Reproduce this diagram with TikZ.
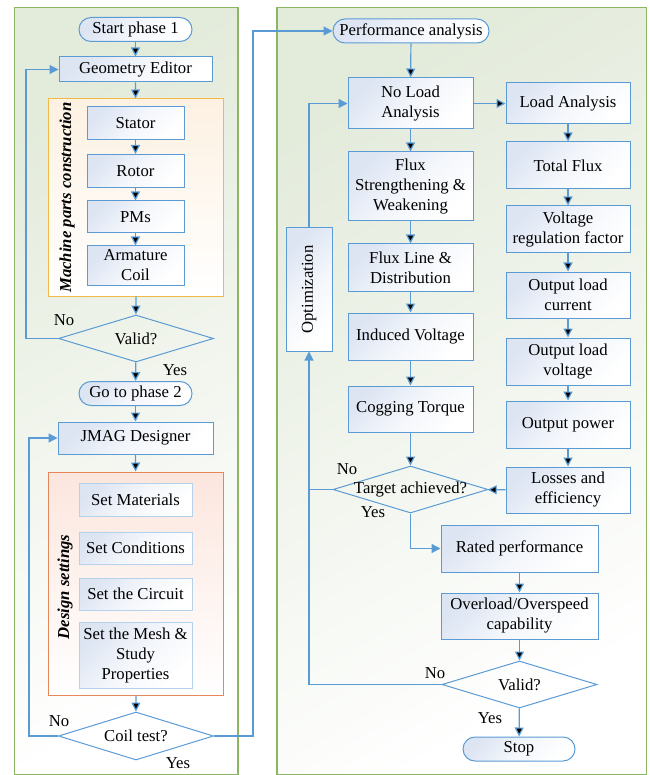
\documentclass[tikz,border=0pt]{standalone}
\usepackage{fontspec}
\setmainfont{Liberation Serif}
\usetikzlibrary{shapes.geometric, arrows.meta}
\usetikzlibrary{positioning}
\definecolor{flowblue}{HTML}{5B9BD5}
\definecolor{blockfill}{HTML}{DDE5F3}
\definecolor{panelline}{HTML}{8DB662}
\definecolor{panelfill}{HTML}{E3EBDB}
\definecolor{partsline}{HTML}{F2BA45}
\definecolor{partsfill}{HTML}{FDF1E2}
\definecolor{designline}{HTML}{E5875A}
\definecolor{designfill}{HTML}{FCE6DE}
\tikzset{
    block/.style={
           rectangle,
           draw=flowblue, line width=1pt,
           top color=blockfill, bottom color=white, shading angle=45,
           middle color=blockfill!35,
           inner sep=2pt,
           align=center,
           },
    terminal/.style={
           block,
           rounded corners=12pt,
           minimum height=24pt,
           },
    decision/.style={
           diamond,
           draw=flowblue, line width=1pt,
           inner sep=0pt,
           minimum width=155pt,
           minimum height=47pt,
           },
    panel/.style={
           draw=panelline, line width=1.2pt,
           top color=panelfill, bottom color=white, shading angle=30,
           },
    groupbox/.style={
           rectangle, line width=1pt, shading angle=45,
           },
    flow/.style={draw=flowblue, line width=1.2pt, -{Triangle[length=9pt,width=9pt]}},
    link/.style={draw=flowblue, line width=1.2pt},
}

\begin{document}
\begin{tikzpicture}[x=1pt, y=-1pt, font=\fontsize{16.7}{20}\selectfont]
  \useasboundingbox (0,0) rectangle (649,775);

  % the two phases in the background
  \draw[panel] (14.5,7.5) rectangle (238,775);
  \draw[panel] (277,7.5) rectangle (646.5,775);

  % phase 1: geometry
  \node[terminal, minimum width=113pt] (START1) at (135.5,29.5) {Start phase 1};
  \node[block, minimum width=153pt, minimum height=25pt] (GEOM) at (135.5,69.5) {Geometry Editor};
  \node[groupbox, draw=partsline, top color=partsfill, bottom color=white,
        minimum width=174.5pt, minimum height=197pt] (PARTS) at (135.75,197.5) {};
  \node[rotate=90, font=\fontsize{16.7}{19}\selectfont\bfseries\itshape] (PARTSLABEL) at (67,197.5)
    {Machine parts construction};
  \node[block, minimum width=97pt, minimum height=33pt] (STATOR) at (135.5,123.5) {Stator};
  \node[block, minimum width=97pt, minimum height=33pt] (ROTOR)  at (135.5,171) {Rotor};
  \node[block, minimum width=97pt, minimum height=32pt] (PMS)    at (135.5,217) {PMs};
  \node[block, minimum width=97pt, minimum height=39pt] (COIL)   at (135.5,265.5) {Armature\\Coil};
  \node[decision] (VALID1) at (136,338.5) {\makebox[0pt]{Valid?}};
  \node[terminal, minimum width=113pt] (START2) at (135.5,393.5) {Go to phase 2};

  % phase 2: design settings
  \node[block, minimum width=155pt, minimum height=32pt] (JMAG) at (135.5,438) {JMAG Designer};
  \node[groupbox, draw=designline, top color=designfill, bottom color=white,
        minimum width=174.5pt, minimum height=223pt] (DESIGN) at (135.75,583.5) {};
  \node[rotate=90, font=\fontsize{16.7}{19}\selectfont\bfseries\itshape] (DESIGNLABEL) at (65,587)
    {Design settings};
  \node[block, draw=flowblue!45, minimum width=113pt, minimum height=33pt] (MAT)  at (135.5,499.5) {Set Materials};
  \node[block, draw=flowblue!45, minimum width=113pt, minimum height=32pt] (COND) at (135.5,548) {Set Conditions};
  \node[block, draw=flowblue!45, minimum width=113pt, minimum height=32pt] (CIRC) at (135.5,594) {Set the Circuit};
  \node[block, draw=flowblue!45, minimum width=113pt, minimum height=66pt] (MESH) at (135.5,655)
    {Set the Mesh \&\\Study\\Properties};
  \node[decision, minimum height=48pt] (COILTEST) at (136,736) {\makebox[0pt]{Coil test?}};

  % performance analysis
  \node[terminal, minimum width=156pt] (PERF) at (411,31) {Performance analysis};
  \node[block, minimum width=125pt, minimum height=51pt] (NOLOAD) at (410.5,103.5) {No Load\\Analysis};
  \node[block, minimum width=125pt, minimum height=69pt] (FLUXSW) at (410.5,186.5) {Flux\\Strengthening \&\\Weakening};
  \node[block, minimum width=125pt, minimum height=47pt] (FLUXLINE) at (410.5,267.5) {Flux Line \&\\Distribution};
  \node[block, minimum width=125pt, minimum height=47pt] (INDUCED) at (410.5,336.5) {Induced Voltage};
  \node[block, minimum width=125pt, minimum height=46pt] (COGGING) at (410.5,409) {Cogging Torque};
  \node[decision] (TARGET) at (410.5,489.5) {\makebox[0pt]{Target achieved?}};

  \node[block, minimum width=124pt, minimum height=41pt] (LOAD) at (568,103.5) {Load Analysis};
  \node[block, minimum width=124pt, minimum height=47pt] (TOTFLUX) at (568,165.5) {Total Flux};
  \node[block, minimum width=124pt, minimum height=47pt] (VREG) at (568,229.5) {Voltage\\regulation factor};
  \node[block, minimum width=124pt, minimum height=46pt] (OUTCUR) at (568,295) {Output load\\current};
  \node[block, minimum width=124pt, minimum height=47pt] (OUTVOLT) at (568,361.5) {Output load\\voltage};
  \node[block, minimum width=124pt, minimum height=47pt] (OUTPOW) at (568,424.5) {Output power};
  \node[block, minimum width=124pt, minimum height=46pt] (LOSSES) at (568,490) {Losses and\\efficiency};

  \node[block, minimum width=46pt, minimum height=123pt] (OPT) at (309,289.5) {\rotatebox{90}{Optimization}};
  \node[block, minimum width=157pt, minimum height=47pt] (RATED) at (519.5,548.5) {Rated performance};
  \node[block, minimum width=157pt, minimum height=46pt] (OVER) at (519.5,616) {Overload/Overspeed\\capability};
  \node[decision] (VALID2) at (519.5,684.5) {\makebox[0pt]{Valid?}};
  \node[terminal, minimum width=112pt] (STOP) at (519,749) {Stop};

  % yes / no
  \node (NO1)  at (64,320) {No};
  \node (YES1) at (175,370) {Yes};
  \node (NO2)  at (59,721) {No};
  \node (YES2) at (178,763) {Yes};
  \node (NO3)  at (347,469) {No};
  \node (YES3) at (373,512) {Yes};
  \node (NO4)  at (435,673) {No};
  \node (YES4) at (490,718) {Yes};

  % helper points for the loops
  \coordinate (LOOPA) at (26,338.5);
  \coordinate (LOOPB) at (29,736);
  \coordinate (JUMP) at (253,736);
  \coordinate (LOOPC) at (OPT.south |- VALID2.west);
  \coordinate (JOIN) at (OPT.south |- TARGET.west);

  % draw the paths
  \path[flow]
  (START1) edge (GEOM)
  (GEOM) edge (PARTS)
  (STATOR) edge (ROTOR)
  (ROTOR) edge (PMS)
  (PMS) edge (COIL)
  (PARTS) edge (VALID1)
  (VALID1) edge (START2)
  (START2) edge (JMAG)
  (JMAG) edge (DESIGN)
  (DESIGN) edge (COILTEST)
  (PERF) edge (NOLOAD)
  (NOLOAD) edge (FLUXSW)
  (FLUXSW) edge (FLUXLINE)
  (FLUXLINE) edge (INDUCED)
  (INDUCED) edge (COGGING)
  (COGGING) edge (TARGET)
  (NOLOAD) edge (LOAD)
  (LOAD) edge (TOTFLUX)
  (TOTFLUX) edge (VREG)
  (VREG) edge (OUTCUR)
  (OUTCUR) edge (OUTVOLT)
  (OUTVOLT) edge (OUTPOW)
  (OUTPOW) edge (LOSSES)
  (LOSSES) edge (TARGET)
  (RATED) edge (OVER)
  (OVER) edge (VALID2)
  (VALID2) edge (STOP)
  ;
  \draw[flow] (VALID1.west) -- (LOOPA) |- (GEOM.west);
  \draw[flow] (COILTEST.west) -- (LOOPB) |- (JMAG.west);
  \draw[flow] (COILTEST.east) -- (JUMP) |- (PERF.west);
  \draw[flow] (TARGET.south) |- (RATED.west);
  \draw[flow] (VALID2.west) -- (LOOPC) -- (OPT.south);
  \draw[link] (TARGET.west) -- (JOIN);
  \draw[flow] (OPT.north) |- (NOLOAD.west);
\end{tikzpicture}
\end{document}
